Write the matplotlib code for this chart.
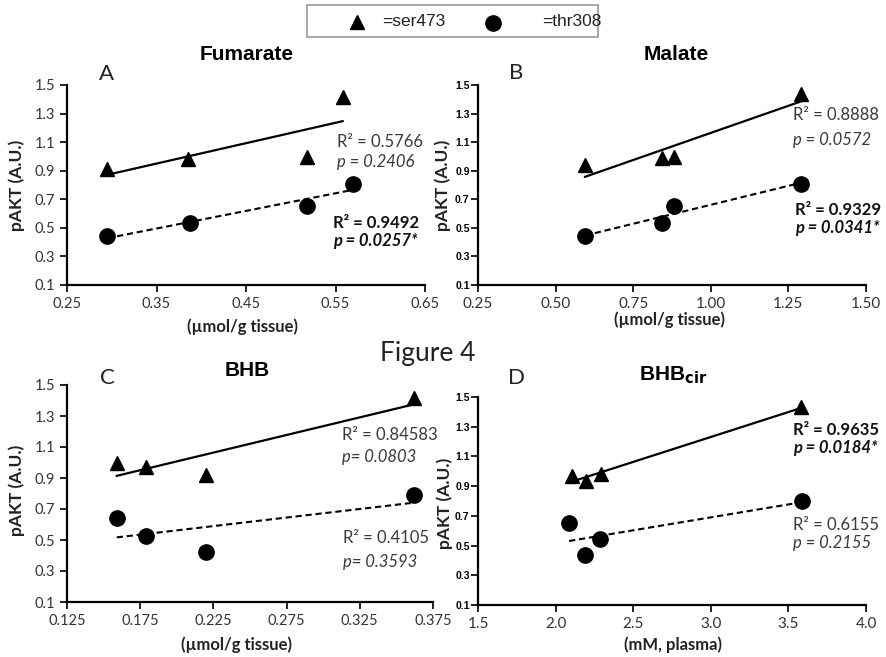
import numpy as np
import matplotlib
matplotlib.use("Agg")
import matplotlib.pyplot as plt
from matplotlib.patches import Rectangle

# data
fum_x_ser = [0.295, 0.385, 0.518, 0.558]
fum_ser = [0.914, 0.98, 0.996, 1.418]
fum_x_thr = [0.295, 0.387, 0.518, 0.57]
fum_thr = [0.44, 0.536, 0.655, 0.807]

mal_x_ser = [0.595, 0.844, 0.88, 1.29]
mal_ser = [0.94, 0.987, 0.998, 1.437]
mal_x_thr = [0.595, 0.844, 0.88, 1.29]
mal_thr = [0.44, 0.536, 0.655, 0.807]

bhb_x = [0.159, 0.179, 0.220, 0.362]
bhb_ser = [0.995, 0.973, 0.919, 1.414]
bhb_thr = [0.64, 0.526, 0.425, 0.79]

cir_x_ser = [2.108, 2.198, 2.295, 3.583]
cir_ser = [0.969, 0.935, 0.98, 1.43]
cir_x_thr = [2.087, 2.188, 2.284, 3.59]
cir_thr = [0.653, 0.438, 0.543, 0.803]

yticks = [0.1, 0.3, 0.5, 0.7, 0.9, 1.1, 1.3, 1.5]
fum_xticks = [0.25, 0.35, 0.45, 0.55, 0.65]
mal_xticks = [0.25, 0.50, 0.75, 1.00, 1.25, 1.50]
bhb_xticks = [0.125, 0.175, 0.225, 0.275, 0.325, 0.375]
cir_xticks = [1.5, 2.0, 2.5, 3.0, 3.5, 4.0]

W, H = 886, 657
fig = plt.figure(figsize=(W / 100, H / 100), dpi=100)


def px_axes(l, t, r, b):
    return fig.add_axes([l / W, 1 - b / H, (r - l) / W, (b - t) / H])


def setup(ax, xt, xfmt, small_y):
    for s in ["top", "right"]:
        ax.spines[s].set_visible(False)
    for s in ["left", "bottom"]:
        ax.spines[s].set_linewidth(1.6)
    ax.set_ylim(0.1, 1.5)
    ax.set_xlim(xt[0], xt[-1])
    ax.set_yticks(yticks)
    ax.set_xticks(xt)
    ax.set_xticklabels([xfmt.format(v) for v in xt])
    ax.set_yticklabels(["{:.1f}".format(v) for v in yticks])
    ax.tick_params(direction="out", length=5, width=1.4, color="#222")
    if small_y:
        for lab in ax.get_yticklabels():
            lab.set_fontfamily("Liberation Sans")
            lab.set_fontweight("bold")
            lab.set_fontsize(7.5)
        for lab in ax.get_xticklabels():
            lab.set_fontfamily("Lato")
            lab.set_fontsize(11)
            lab.set_color("#333")
        ax.tick_params(axis="y", pad=1)
    else:
        for lab in ax.get_yticklabels() + ax.get_xticklabels():
            lab.set_fontfamily("Lato")
            lab.set_fontsize(10.5)
            lab.set_color("#333")


def draw(ax, xs, ys, xc, yc):
    ax.plot(xs, ys, "^", color="k", ms=10, clip_on=False)
    ax.plot(xc, yc, "o", color="k", ms=11, clip_on=False)
    k, d = np.polyfit(xs, ys, 1)
    xx = np.array([min(xs), max(xs)])
    ax.plot(xx, k * xx + d, "-", color="k", lw=1.6)
    k, d = np.polyfit(xc, yc, 1)
    xx = np.array([min(xc), max(xc)])
    ax.plot(xx, k * xx + d, "--", color="k", lw=1.5, dashes=(3, 1.8))


axA = px_axes(67, 85, 425, 285)
setup(axA, fum_xticks, "{:.2f}", False)
draw(axA, fum_x_ser, fum_ser, fum_x_thr, fum_thr)

axB = px_axes(478, 85, 866, 285)
setup(axB, mal_xticks, "{:.2f}", True)
draw(axB, mal_x_ser, mal_ser, mal_x_thr, mal_thr)

axC = px_axes(67, 385, 433, 602)
setup(axC, bhb_xticks, "{:.3f}", False)
draw(axC, bhb_x, bhb_ser, bhb_x, bhb_thr)

axD = px_axes(478, 397, 866, 605)
setup(axD, cir_xticks, "{:.1f}", True)
draw(axD, cir_x_ser, cir_ser, cir_x_thr, cir_thr)

# overlay in pixel coordinates for free text
ov = fig.add_axes([0, 0, 1, 1], zorder=10)
ov.set_xlim(0, W)
ov.set_ylim(H, 0)
ov.axis("off")
ov.patch.set_alpha(0)


def t(x, y, s, **kw):
    kw.setdefault("va", "center")
    ov.text(x, y, s, **kw)


# titles
for x, y, s in [(247, 55, "Fumarate"), (676, 55, "Malate"), (247, 370, "BHB"),
                (673, 375, "BHB$_{\\mathbf{cir}}$")]:
    t(x, y, s, ha="center", fontsize=15, fontweight="bold", family="Liberation Sans")

# panel letters
for x, y, s in [(107, 74, "A"), (516, 73, "B"), (107, 378, "C"), (517, 378, "D")]:
    t(x, y, s, ha="center", fontsize=16, family="Lato", color="#222")

t(428, 353, "Figure 4", ha="center", fontsize=19, family="Lato", color="#222")

# y labels
for x, y in [(17, 185), (443, 185), (17, 490), (445, 503)]:
    t(x, y, "pAKT (A.U.)", ha="center", rotation=90, fontsize=12.5,
      fontweight="bold", family="Lato", color="#222")

# x labels
for x, y, s in [(243, 327, "(µmol/g tissue)"), (670, 320, "(µmol/g tissue)"),
                (237, 645, "(µmol/g tissue)"), (673, 645, "(mM, plasma)")]:
    t(x, y, s, ha="center", fontsize=12, fontweight="bold", family="Lato", color="#222")

# regression annotations
plain = dict(family="Lato", fontsize=12, color="#3a3a3a")
bold = dict(family="Lato", fontsize=12, color="#111", fontweight="bold")
t(337, 142, "R² = 0.5766", **plain)
t(337, 162, "p = 0.2406", style="italic", **plain)
t(333, 223, "R² = 0.9492", **bold)
t(333, 241, "p = 0.0257*", style="italic", **bold)

t(793, 115, "R² = 0.8888", **plain)
t(793, 140, "p = 0.0572", style="italic", **plain)
t(795, 210, "R² = 0.9329", **bold)
t(795, 228, "p = 0.0341*", style="italic", **bold)

t(342, 435, "R² = 0.84583", **plain)
t(342, 457, "p= 0.0803", style="italic", **plain)
t(343, 538, "R² = 0.4105", **plain)
t(343, 562, "p= 0.3593", style="italic", **plain)

t(793, 430, "R² = 0.9635", **bold)
t(793, 448, "p = 0.0184*", style="italic", **bold)
t(793, 525, "R² = 0.6155", **plain)
t(793, 543, "p = 0.2155", style="italic", **plain)

# legend box
ov.add_patch(Rectangle((307, 5), 291, 32, fill=False, edgecolor="#999", lw=1.2))
ov.plot([357], [22], "^", color="k", ms=10)
ov.plot([493], [23], "o", color="k", ms=11)
t(382, 21, "=ser473", fontsize=12.5, family="Liberation Sans", color="#222")
t(542, 21, "=thr308", fontsize=12.5, family="Liberation Sans", color="#222")

fig.savefig("out.png", dpi=100)
